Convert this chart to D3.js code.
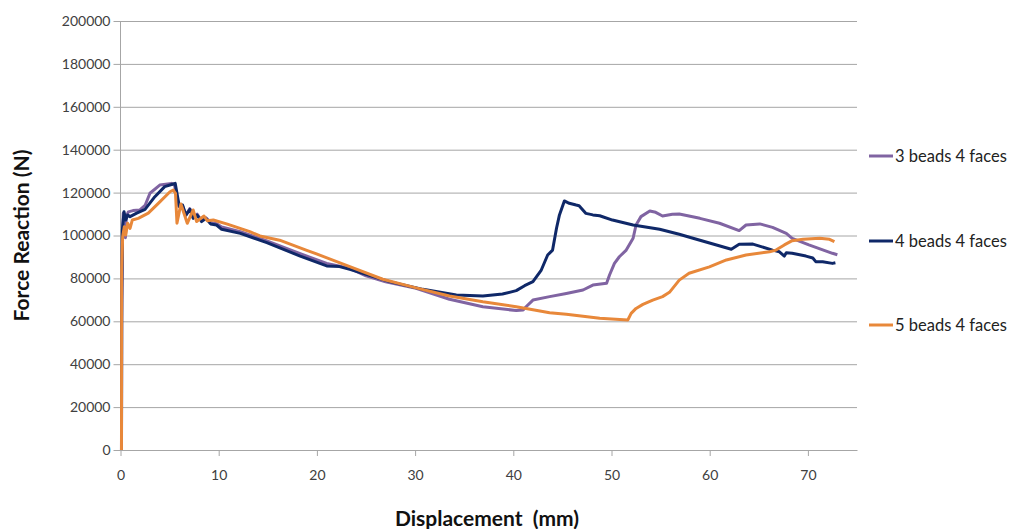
<!DOCTYPE html>
<html>
<head>
<meta charset="utf-8">
<script src="https://cdn.jsdelivr.net/npm/d3@7"></script>
<style>
  body { margin: 0; background: #fff; }
  text { font-family: Lato, "Open Sans", sans-serif; }
</style>
</head>
<body>
<div id="chart"></div>
<script>
// values: [displacement mm, force N]
var seriesNames = ['3 beads 4 faces', '4 beads 4 faces', '5 beads 4 faces'];
var seriesColors = ['#8064a2', '#0f2868', '#e8883a'];

var threeBeads = [[0.1, 0], [0.12, 60000], [0.2, 100000], [0.28, 110400], [0.4, 108000], [0.5, 99000],
  [0.6, 109000], [0.8, 111000], [1.27, 111600], [1.98, 111900], [2.5, 114000], [3, 119700], [4, 123500],
  [5.2, 124300], [5.5, 123500], [5.95, 113500], [6.3, 114000], [6.65, 109500], [7.05, 112500], [7.4, 108500],
  [7.8, 110000], [8.25, 107000], [8.7, 108300], [9.2, 106000], [9.8, 105500], [10.3, 104000], [12.2, 101800],
  [14.9, 97500], [18.3, 91500], [21, 87000], [23.3, 84800], [25, 81200], [27, 78400], [30.1, 75400],
  [33.5, 70300], [36.9, 66800], [40.3, 65000], [41, 65300], [41.3, 66800], [42, 69900], [43.7, 71500],
  [45.4, 73000], [47.1, 74600], [48.1, 76900], [49.5, 77700], [49.8, 81600], [50.3, 87000], [50.8, 90100],
  [51.5, 93200], [52.2, 98700], [52.5, 104900], [53, 108800], [53.9, 111400], [54.5, 110800], [55.2, 109100],
  [56.2, 109900], [56.9, 110000], [59, 108000], [61, 105700], [63, 102300], [63.7, 104900], [65.1, 105400],
  [66.4, 103800], [67.8, 101000], [68.4, 98700], [70.1, 95600], [72.5, 91700], [73, 91000]];

var fourBeads = [[0.1, 0], [0.13, 70000], [0.19, 102600], [0.36, 111100], [0.53, 107200], [0.73, 109500],
  [0.97, 108800], [1.65, 110400], [2.5, 112200], [3.5, 118100], [4.5, 122800], [5.37, 124000], [5.57, 124300],
  [5.98, 113700], [6.32, 114200], [6.66, 109500], [7.07, 112200], [7.4, 108000], [7.8, 109500], [8.26, 106500],
  [8.7, 108000], [9.17, 105400], [9.78, 104900], [10.3, 102900], [12.2, 101000], [14.9, 96700], [18.3, 90400],
  [21, 85800], [22.3, 85500], [23.35, 84200], [27.4, 78500], [30.8, 74900], [34.2, 72300], [36.9, 71800],
  [38.9, 72700], [40.3, 74300], [41.15, 76600], [42, 78500], [42.85, 83900], [43.5, 90900], [44, 93200],
  [44.4, 103400], [44.7, 109600], [45.2, 116100], [45.7, 115000], [46.4, 114200], [46.7, 113900],
  [47.4, 110300], [48.1, 109600], [48.8, 109200], [50.1, 107200], [52.2, 104900], [54.9, 102900],
  [56.9, 100600], [58.3, 98700], [62.2, 93600], [63, 95900], [64.4, 96000], [66.4, 93200], [67.1, 92400],
  [67.6, 90400], [67.8, 92000], [68.4, 91700], [69.8, 90400], [70.5, 89500], [70.8, 87800], [71.5, 87800],
  [72.5, 87000], [72.8, 87300]];

var fiveBeads = [[0.1, 0], [0.12, 83900], [0.22, 99400], [0.39, 104100], [0.53, 100200], [0.73, 105700],
  [0.97, 103300], [1.2, 107200], [1.81, 108000], [2.83, 110400], [3.85, 115000], [5.04, 120400],
  [5.37, 121200], [5.6, 119700], [5.75, 105700], [6.15, 114700], [6.8, 105700], [7.4, 111900], [7.75, 106500],
  [8.5, 109100], [8.83, 106900], [9.45, 107200], [10.8, 105400], [13.17, 101800], [14.2, 99800],
  [16.2, 97800], [18.9, 93200], [19.96, 91400], [23.35, 85500], [26.7, 79600], [30.1, 75600], [33.5, 71800],
  [36.9, 69100], [40.3, 66800], [43.7, 64000], [45.4, 63300], [48.8, 61400], [51.66, 60600], [52, 63700],
  [52.5, 66000], [53.2, 67900], [54.2, 69900], [55.2, 71500], [55.9, 73500], [56.9, 79200], [57.9, 82400],
  [59.97, 85400], [61.7, 88600], [63.7, 90900], [66.1, 92400], [66.75, 93200], [67.6, 95600], [68.4, 97600],
  [69.5, 98200], [71.2, 98700], [72.2, 98200], [72.7, 97100]];

var xTicks = [0, 10, 20, 30, 40, 50, 60, 70];
var yTicks = [0, 20000, 40000, 60000, 80000, 100000, 120000, 140000, 160000, 180000, 200000];

var width = 1011, height = 529;
var margins = {left: 120.5, right: 154, top: 21, bottom: 79};
var plotW = width - margins.left - margins.right;
var plotH = height - margins.top - margins.bottom;

var svg = d3.select('#chart').append('svg')
            .attr('width', width)
            .attr('height', height);

var x = d3.scaleLinear().domain([0, 75]).range([0, plotW]);
var y = d3.scaleLinear().domain([0, 200000]).range([plotH, 0]);

var plot = svg.append('g')
              .attr('transform', 'translate(' + margins.left + ',' + margins.top + ')');

// horizontal gridlines + y labels
var yAxis = d3.axisLeft(y)
              .tickValues(yTicks)
              .tickSizeInner(-plotW)
              .tickSizeOuter(0)
              .tickPadding(10)
              .tickFormat(d3.format('d'));
var yg = plot.append('g').attr('class', 'yaxis').call(yAxis);
yg.select('.domain').remove();
yg.selectAll('.tick line').attr('stroke', '#a6a6a6').attr('x1', -7);
yg.selectAll('.tick text').attr('fill', '#404040').style('font-size', '14px');

// x axis
var xAxis = d3.axisBottom(x)
              .tickValues(xTicks)
              .tickSizeInner(6)
              .tickSizeOuter(0)
              .tickPadding(14)
              .tickFormat(d3.format('d'));
var xg = plot.append('g').attr('class', 'xaxis')
             .attr('transform', 'translate(0,' + plotH + ')')
             .call(xAxis);
xg.select('.domain').attr('stroke', '#a6a6a6');
xg.selectAll('.tick line').attr('stroke', '#a6a6a6');
xg.selectAll('.tick text').attr('fill', '#404040').style('font-size', '14px');

// vertical axis line
plot.append('line')
    .attr('x1', 0).attr('x2', 0)
    .attr('y1', 0).attr('y2', plotH)
    .attr('stroke', '#a6a6a6');

var allSeries = [threeBeads, fourBeads, fiveBeads];
var line = d3.line()
             .x(function(d) { return x(d[0]); })
             .y(function(d) { return y(d[1]); })
             .curve(d3.curveLinear);

plot.selectAll('path.series')
    .data(allSeries)
    .enter()
    .append('path')
    .attr('class', 'series')
    .attr('d', line)
    .attr('fill', 'none')
    .attr('stroke', function(d, i) { return seriesColors[i]; })
    .attr('stroke-width', 3)
    .attr('stroke-linejoin', 'round');

// axis titles
svg.append('text')
   .attr('transform', 'translate(29,' + (margins.top + plotH / 2) + ') rotate(-90)')
   .attr('text-anchor', 'middle')
   .attr('font-weight', 'bold')
   .style('font-size', '21px')
   .attr('fill', '#111')
   .text('Force Reaction (N)');

svg.append('text')
   .attr('x', 487)
   .attr('y', 526)
   .attr('text-anchor', 'middle')
   .attr('font-weight', 'bold')
   .style('font-size', '21px')
   .style('white-space', 'pre')
   .attr('fill', '#111')
   .text('Displacement  (mm)');

// legend
var legendY = [156, 241, 325];
var legend = svg.selectAll('g.legend')
                .data(seriesNames)
                .enter()
                .append('g')
                .attr('class', 'legend')
                .attr('transform', function(d, i) { return 'translate(869,' + legendY[i] + ')'; });
legend.append('line')
      .attr('x1', 0).attr('x2', 24)
      .attr('stroke', function(d, i) { return seriesColors[i]; })
      .attr('stroke-width', 3);
legend.append('text')
      .attr('x', 26)
      .attr('y', 6)
      .attr('fill', '#222')
      .style('font-size', '16.5px')
      .text(function(d) { return d; });
</script>
</body>
</html>
